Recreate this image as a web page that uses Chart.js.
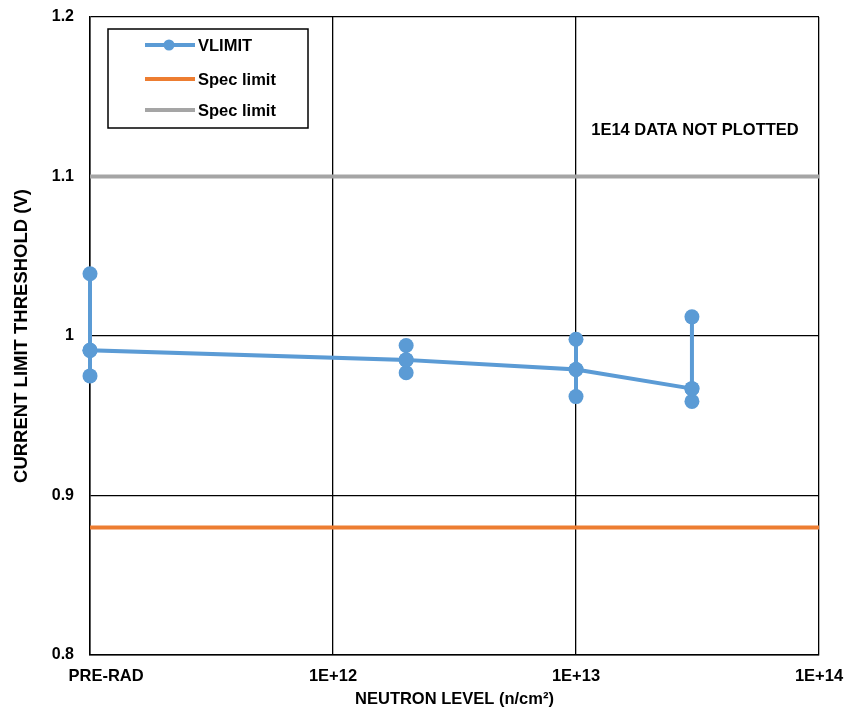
<!DOCTYPE html>
<html>
<head>
<meta charset="utf-8">
<title>Current limit threshold vs neutron level</title>
<script src="https://cdn.jsdelivr.net/npm/chart.js@4.4.0/dist/chart.umd.min.js"></script>
<style>
  html, body { margin: 0; padding: 0; background: #fff; }
  #wrap { width: 844px; height: 710px; }
</style>
</head>
<body>
<div id="wrap"><canvas id="myChart"></canvas></div>
<script>
// neutron fluence of each test group, pre-rad parts sit at 1E+11
const levels = [1e11, 2e12, 1e13, 3e13];
// VLIMIT per group: middle unit, highest, lowest (V)
const vMid  = [0.991, 0.985, 0.979, 0.967];
const vHigh = [1.039, 0.994, 0.998, 1.012];
const vLow  = [0.975, 0.977, 0.962, 0.959];

const specLow = 0.88;
const specHigh = 1.1;

const xTicks = [1e11, 1e12, 1e13, 1e14];
const xTickLabels = ['       PRE-RAD', '1E+12', '1E+13', '1E+14'];
const yTickLabels = { '0.8': '0.8', '0.9': '0.9', '1.0': '1', '1.1': '1.1', '1.2': '1.2' };

const blue = '#5B9BD5';
const orange = '#ED7D31';
const gray = '#A5A5A5';
const bold = (size) => ({ family: 'Arial, "Liberation Sans", sans-serif', size: size, weight: 'bold' });

// each group: middle -> high -> low -> middle, so the line runs through the spread
const vlimitPts = [];
levels.forEach((x, i) => {
  vlimitPts.push({ x: x, y: vMid[i] }, { x: x, y: vHigh[i] }, { x: x, y: vLow[i] }, { x: x, y: vMid[i] });
});
const specLine = (v) => [{ x: xTicks[0], y: v }, { x: xTicks[xTicks.length - 1], y: v }];

// boxed legend in the upper left of the plot + the note on the right
const boxLegend = {
  id: 'boxLegend',
  afterDraw(chart) {
    const { ctx, chartArea } = chart;
    const x0 = chartArea.left + 18, y0 = chartArea.top + 12, w = 200, h = 99;
    const rows = [16, 50, 81];
    ctx.save();
    ctx.fillStyle = '#fff';
    ctx.fillRect(x0, y0, w, h);
    ctx.strokeStyle = '#000';
    ctx.lineWidth = 1.5;
    ctx.strokeRect(x0, y0, w, h);
    chart.data.datasets.forEach((ds, i) => {
      const y = y0 + rows[i];
      ctx.strokeStyle = ds.borderColor;
      ctx.lineWidth = 4;
      ctx.beginPath();
      ctx.moveTo(x0 + 37, y);
      ctx.lineTo(x0 + 87, y);
      ctx.stroke();
      if (ds.pointRadius) {
        ctx.fillStyle = ds.borderColor;
        ctx.beginPath();
        ctx.arc(x0 + 61, y, 5.5, 0, Math.PI * 2);
        ctx.fill();
      }
      ctx.fillStyle = '#000';
      ctx.font = 'bold 16.5px Arial, "Liberation Sans", sans-serif';
      ctx.textAlign = 'left';
      ctx.textBaseline = 'middle';
      ctx.fillText(ds.label, x0 + 90, y + 1);
    });
    ctx.font = 'bold 16.5px Arial, "Liberation Sans", sans-serif';
    ctx.textAlign = 'center';
    ctx.textBaseline = 'middle';
    ctx.fillStyle = '#000';
    ctx.fillText('1E14 DATA NOT PLOTTED', chartArea.left + 605, chartArea.top + 113);
    ctx.restore();
  }
};

const ctx = document.getElementById('myChart');

new Chart(ctx, {
  type: 'line',
  data: {
    datasets: [{
      label: 'VLIMIT',
      data: vlimitPts,
      borderColor: blue,
      backgroundColor: blue,
      borderWidth: 4,
      pointRadius: 7.5,
      pointBorderWidth: 0,
      pointHoverRadius: 7.5,
      tension: 0,
      clip: false
    }, {
      label: 'Spec limit',
      data: specLine(specLow),
      borderColor: orange,
      borderWidth: 4,
      pointRadius: 0,
      clip: false
    }, {
      label: 'Spec limit',
      data: specLine(specHigh),
      borderColor: gray,
      borderWidth: 4,
      pointRadius: 0,
      clip: false
    }]
  },
  options: {
    responsive: true,
    maintainAspectRatio: false,
    animation: false,
    layout: { padding: { top: 17, right: 25, left: 0, bottom: 0 } },
    plugins: {
      legend: { display: false },
      tooltip: { enabled: false }
    },
    scales: {
      x: {
        type: 'logarithmic',
        min: xTicks[0],
        max: xTicks[xTicks.length - 1],
        afterBuildTicks: (scale) => { scale.ticks = xTicks.map(v => ({ value: v })); },
        afterFit: (scale) => {
          scale.height = 55;
          scale.paddingLeft = 0;
          scale.paddingRight = 20;
        },
        ticks: {
          callback: (v, i) => xTickLabels[i],
          color: '#000',
          font: bold(16.5),
          padding: 12,
          maxRotation: 0,
          autoSkip: false
        },
        grid: { color: '#000', lineWidth: 1.3, drawTicks: false },
        border: { color: '#000', width: 1.5 },
        title: {
          display: true,
          text: 'NEUTRON LEVEL (n/cm²)',
          color: '#000',
          font: bold(16.5),
          padding: { top: 0, bottom: 1 }
        }
      },
      y: {
        min: 0.8,
        max: 1.2,
        afterFit: (scale) => {
          scale.width = 90;
          scale.paddingTop = 8;
          scale.paddingBottom = 8;
        },
        ticks: {
          stepSize: 0.1,
          callback: (v) => yTickLabels[v.toFixed(1)],
          color: '#000',
          font: bold(16),
          padding: 16
        },
        grid: { color: '#000', lineWidth: 1.3, drawTicks: false },
        border: { color: '#000', width: 1.5 },
        title: {
          display: true,
          text: 'CURRENT LIMIT THRESHOLD (V)',
          color: '#000',
          font: bold(18.5),
          padding: { top: 11, bottom: 0 }
        }
      }
    }
  },
  plugins: [boxLegend]
});
</script>
</body>
</html>
